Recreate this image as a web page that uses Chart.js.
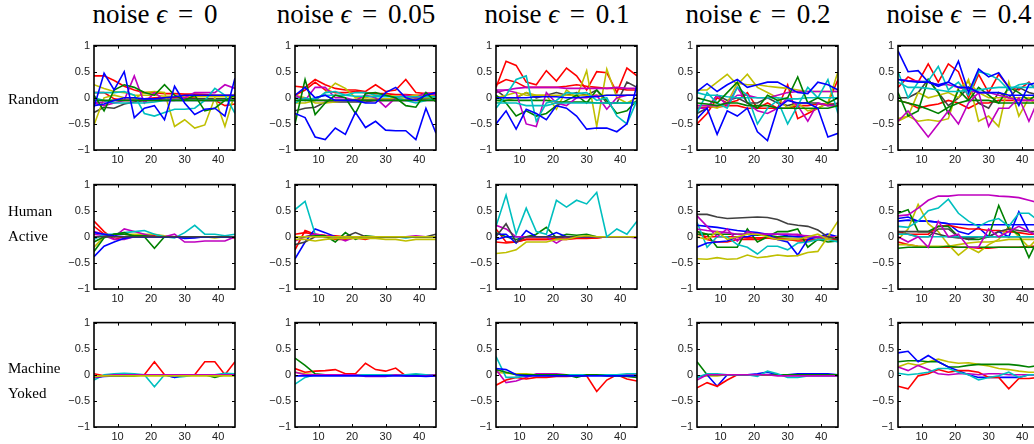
<!DOCTYPE html>
<html>
<head>
<script src="https://cdn.jsdelivr.net/npm/chart.js@4.4.0/dist/chart.umd.min.js"></script>
<style>
  body { margin: 0; background: #fff; width: 1034px; height: 444px; overflow: hidden; position: relative; }
  canvas { position: absolute; }
  .title { position: absolute; width: 240px; text-align: center; font: 27px 'Liberation Serif', serif; color: #000; white-space: nowrap; }
  .title i { font-style: italic; }
  .title .eq { margin: 0 4px; }
  .row { position: absolute; left: 8px; font: 15px 'Liberation Serif', serif; line-height: 25px; color: #000; }
</style>
</head>
<body>
<script>
// x positions of the samples and the axis ticks
const xSteps = [3, 6, 9, 12, 15, 18, 21, 24, 27, 30, 33, 36, 39, 42, 45];
const xTicks = [10, 20, 30, 40];
const yTicks = [-1, -0.5, 0, 0.5, 1];
const noiseLevels = ['0', '0.05', '0.1', '0.2', '0.4'];
const rowNames = [['Random'], ['Human', 'Active'], ['Machine', 'Yoked']];

// ---- Random ----
const randomE0 = {
  blue1: [-0.18, 0.47, 0.15, 0.5, -0.38, -0.2, -0.15, -0.42, 0.22, -0.1, -0.32, -0.22, -0.2, -0.35, 0.38],
  blue2: [-0.15, -0.12, -0.05, 0.0, 0.0, -0.02, -0.02, 0.0, 0.02, 0.05, 0.05, 0.05, 0.05, 0.05, 0.05],
  green1: [0.05, -0.25, 0.15, 0.25, 0.2, 0.1, 0.05, 0.25, 0.05, -0.05, 0.05, -0.25, -0.2, -0.05, 0.05],
  green2: [-0.05, -0.05, -0.05, -0.05, -0.05, -0.05, -0.05, -0.05, -0.05, -0.05, -0.05, -0.05, -0.05, -0.05, -0.05],
  cyan1: [0.1, 0.1, 0.1, 0.12, 0.05, -0.3, -0.35, -0.28, -0.22, -0.22, -0.2, -0.05, 0.18, 0.05, -0.3],
  cyan2: [0.0, -0.05, -0.1, -0.1, -0.1, -0.1, -0.08, -0.05, -0.05, -0.05, -0.05, -0.05, -0.05, -0.05, -0.05],
  magenta1: [-0.1, -0.15, -0.1, -0.05, 0.42, -0.1, 0.1, -0.05, -0.05, 0.0, 0.1, 0.1, 0.1, 0.25, 0.18],
  magenta2: [-0.1, -0.08, -0.05, -0.05, -0.05, -0.05, -0.05, -0.05, -0.05, -0.05, -0.05, -0.05, -0.05, -0.05, -0.05],
  yellow1: [-0.52, 0.0, 0.05, 0.0, -0.02, 0.1, 0.12, 0.1, -0.55, -0.42, -0.58, -0.52, 0.0, -0.55, 0.1],
  yellow2: [0.25, 0.18, 0.12, 0.1, 0.05, 0.05, 0.05, 0.03, 0.03, 0.03, 0.02, 0.02, 0.02, 0.02, 0.02],
  gray1: [-0.28, -0.18, -0.2, -0.12, -0.08, -0.05, -0.05, -0.03, -0.03, -0.02, -0.02, -0.02, -0.02, -0.02, -0.02],
  red1: [0.42, 0.42, 0.33, 0.22, 0.15, 0.1, 0.1, 0.08, 0.08, 0.07, 0.07, 0.06, 0.05, 0.05, 0.05],
  red2: [0.1, 0.1, -0.02, -0.05, -0.05, -0.02, 0.0, 0.0, 0.0, 0.02, 0.0, -0.05, -0.05, -0.15, -0.12]
};
const randomE005 = {
  blue1: [-0.3, -0.38, -0.75, -0.8, -0.58, -0.7, -0.28, -0.57, -0.45, -0.62, -0.63, -0.63, -0.8, -0.2, -0.68],
  blue2: [0.05, 0.2, 0.0, 0.05, -0.05, -0.05, -0.05, -0.1, -0.1, 0.1, 0.2, 0.0, -0.05, 0.05, 0.1],
  green1: [-0.5, 0.35, -0.32, -0.1, 0.05, 0.0, -0.3, 0.08, 0.1, 0.05, 0.0, -0.15, -0.18, 0.1, -0.08],
  green2: [-0.05, -0.05, -0.05, -0.05, -0.05, -0.05, -0.05, -0.05, -0.05, -0.05, -0.05, -0.05, -0.05, -0.05, -0.05],
  cyan1: [-0.1, 0.0, -0.05, 0.1, 0.12, 0.05, 0.1, 0.1, 0.05, 0.05, 0.0, -0.05, -0.1, -0.05, 0.0],
  cyan2: [0.0, -0.05, 0.0, 0.05, 0.05, 0.05, 0.03, 0.03, 0.02, 0.02, 0.02, 0.02, 0.02, 0.02, 0.02],
  magenta1: [0.05, -0.05, 0.2, 0.2, 0.0, 0.0, -0.05, 0.05, 0.0, -0.18, 0.0, 0.05, 0.0, 0.1, 0.05],
  magenta2: [0.0, -0.02, -0.05, -0.05, -0.05, -0.05, -0.05, -0.05, -0.05, -0.05, -0.05, -0.05, -0.05, -0.05, -0.05],
  yellow1: [-0.1, -0.1, -0.05, 0.1, 0.28, 0.18, 0.0, 0.0, 0.05, 0.05, 0.03, 0.03, 0.05, 0.05, 0.05],
  yellow2: [0.05, 0.0, -0.1, -0.1, -0.08, -0.05, -0.03, -0.03, -0.02, -0.02, -0.02, 0.0, 0.0, 0.0, 0.0],
  gray1: [-0.25, -0.2, -0.18, -0.08, -0.08, -0.08, -0.08, -0.08, -0.05, -0.05, -0.05, -0.05, -0.02, -0.02, -0.02],
  red1: [0.22, 0.2, 0.35, 0.25, 0.18, 0.15, 0.15, 0.12, 0.25, 0.12, 0.15, 0.35, 0.1, 0.08, 0.1],
  red2: [0.05, 0.15, 0.3, 0.15, 0.1, 0.1, 0.12, 0.1, 0.08, 0.08, 0.06, 0.06, 0.05, 0.05, 0.08]
};
const randomE01 = {
  blue1: [-0.5, -0.25, -0.6, -0.22, -0.3, -0.42, -0.15, -0.2, -0.35, -0.6, -0.58, -0.58, -0.65, -0.5, 0.25],
  blue2: [0.0, 0.0, 0.0, 0.0, 0.02, 0.02, 0.02, 0.0, 0.0, 0.02, 0.02, 0.05, 0.05, 0.05, 0.05],
  cyan1: [-0.2, 0.05, 0.35, 0.42, -0.45, -0.1, -0.05, 0.1, 0.08, 0.1, -0.05, 0.0, -0.35, -0.5, -0.05],
  cyan2: [-0.1, -0.1, -0.1, -0.15, -0.15, -0.15, -0.1, -0.1, -0.1, -0.1, -0.1, -0.1, -0.1, -0.1, -0.1],
  magenta1: [0.1, 0.15, 0.1, -0.5, -0.55, 0.1, -0.1, -0.15, 0.0, 0.0, 0.05, -0.22, 0.0, 0.05, 0.05],
  magenta2: [0.15, 0.15, 0.18, 0.2, 0.2, 0.2, 0.2, 0.18, 0.18, 0.18, 0.18, 0.18, 0.2, 0.18, 0.18],
  green1: [0.05, -0.1, -0.35, -0.25, -0.35, -0.3, -0.15, -0.05, 0.05, -0.1, 0.15, -0.05, -0.3, -0.25, -0.05],
  green2: [-0.05, -0.05, -0.05, -0.05, -0.05, -0.05, -0.08, -0.08, -0.08, -0.08, -0.1, -0.1, -0.1, -0.1, -0.08],
  yellow1: [-0.1, -0.05, 0.0, 0.1, 0.05, 0.05, -0.22, 0.15, 0.0, 0.52, -0.55, 0.55, 0.0, -0.1, 0.0],
  yellow2: [0.0, 0.05, 0.1, 0.05, 0.05, 0.05, 0.05, 0.05, 0.05, 0.05, 0.05, 0.05, 0.05, 0.05, 0.05],
  gray1: [0.15, 0.0, 0.0, 0.1, 0.0, 0.05, 0.1, 0.05, 0.1, 0.05, 0.15, -0.1, -0.1, 0.3, 0.2],
  red1: [0.2, 0.7, 0.62, 0.3, 0.25, 0.52, 0.32, 0.57, 0.42, 0.15, 0.5, 0.48, 0.1, 0.57, 0.42],
  red2: [0.25, 0.35, 0.3, 0.2, 0.2, 0.2, 0.2, 0.22, 0.25, 0.22, 0.2, 0.18, 0.18, 0.15, 0.15]
};
const randomE02 = {
  blue1: [0.12, 0.27, 0.12, 0.25, 0.35, 0.2, 0.25, 0.3, 0.3, 0.2, 0.1, 0.08, 0.3, 0.25, 0.15],
  blue2: [-0.4, -0.2, -0.7, -0.25, -0.35, -0.2, -0.65, -0.82, -0.2, -0.05, -0.1, -0.1, -0.2, -0.75, -0.68],
  green1: [0.0, -0.05, -0.1, 0.1, 0.3, -0.1, -0.2, 0.05, -0.05, 0.0, 0.4, -0.1, 0.0, -0.1, 0.0],
  green2: [-0.1, -0.12, -0.15, -0.1, -0.1, -0.15, -0.15, -0.15, -0.2, -0.2, -0.2, -0.2, -0.2, -0.2, -0.15],
  cyan1: [-0.3, 0.1, -0.1, -0.2, 0.2, 0.05, -0.5, -0.2, -0.05, -0.5, -0.15, 0.2, 0.0, 0.35, -0.3],
  cyan2: [0.1, 0.05, 0.05, 0.02, 0.0, 0.0, 0.0, 0.0, 0.0, -0.02, -0.02, 0.0, 0.0, 0.0, 0.0],
  magenta1: [-0.2, -0.2, 0.05, -0.15, 0.2, -0.1, -0.25, -0.3, -0.2, 0.0, -0.15, -0.45, -0.1, -0.15, -0.15],
  magenta2: [-0.15, -0.15, -0.15, -0.1, 0.05, 0.05, 0.0, 0.0, 0.05, 0.1, 0.12, 0.12, 0.12, 0.12, 0.12],
  yellow1: [0.15, 0.15, 0.3, 0.45, 0.25, 0.45, 0.2, 0.1, 0.0, -0.2, -0.1, -0.25, -0.2, -0.1, 0.5],
  yellow2: [-0.15, -0.15, -0.2, -0.1, 0.28, 0.25, 0.25, 0.22, 0.2, 0.18, 0.15, 0.12, 0.12, 0.12, 0.12],
  gray1: [-0.3, -0.2, 0.05, -0.05, 0.0, -0.1, -0.1, 0.0, -0.1, -0.15, -0.1, -0.1, -0.1, -0.15, -0.1],
  red1: [-0.5, -0.3, 0.0, -0.1, -0.05, 0.1, -0.2, -0.1, -0.2, 0.25, -0.4, -0.3, -0.2, -0.1, 0.35],
  red2: [-0.2, -0.18, -0.18, -0.15, -0.15, -0.2, -0.2, -0.2, -0.2, -0.2, -0.15, -0.15, -0.12, -0.12, -0.12]
};
const randomE04 = {
  blue1: [0.9, 0.5, 0.52, 0.3, 0.22, 0.3, 0.7, 0.1, 0.55, 0.4, 0.48, 0.2, -0.15, 0.25, 0.3],
  blue2: [0.35, 0.32, 0.3, 0.3, 0.25, 0.3, 0.2, 0.2, 0.1, 0.1, 0.1, 0.05, 0.05, 0.05, 0.05],
  cyan1: [0.5, 0.0, 0.3, 0.32, 0.6, 0.15, 0.3, 0.05, 0.5, 0.45, 0.35, 0.15, 0.25, 0.28, 0.15],
  cyan2: [0.3, 0.2, 0.2, 0.18, 0.15, 0.12, 0.12, 0.15, 0.15, 0.18, 0.2, 0.2, 0.2, 0.2, 0.2],
  magenta1: [-0.45, -0.25, -0.5, -0.75, -0.5, -0.25, -0.5, -0.1, 0.1, -0.55, -0.2, -0.2, 0.0, -0.45, 0.0],
  magenta2: [0.35, 0.33, 0.32, 0.3, 0.25, 0.25, 0.2, 0.15, 0.1, 0.1, 0.05, 0.0, -0.05, -0.05, -0.05],
  green1: [0.1, -0.35, -0.25, 0.35, 0.1, -0.3, 0.15, -0.05, 0.2, 0.05, -0.1, 0.2, 0.1, -0.05, 0.1],
  green2: [-0.05, -0.1, -0.15, -0.22, -0.3, -0.18, -0.1, -0.05, -0.05, -0.05, -0.1, -0.1, -0.1, -0.1, -0.1],
  yellow1: [-0.45, -0.35, 0.1, 0.0, 0.05, 0.1, 0.0, 0.35, -0.45, -0.35, -0.55, 0.3, -0.35, 0.0, -0.2],
  yellow2: [-0.4, -0.35, -0.45, -0.42, -0.45, -0.4, 0.2, 0.3, 0.1, 0.0, 0.0, 0.0, 0.0, 0.0, 0.0],
  gray1: [0.0, 0.0, 0.1, 0.35, 0.1, -0.15, 0.0, 0.2, -0.1, -0.2, 0.1, 0.0, 0.2, 0.1, 0.05],
  red1: [0.2, 0.4, 0.3, 0.65, 0.3, 0.65, 0.5, 0.0, 0.45, 0.1, 0.45, 0.2, 0.15, 0.3, 0.1],
  red2: [-0.05, -0.1, -0.2, -0.15, -0.12, -0.05, -0.1, -0.2, -0.1, -0.1, -0.05, -0.05, -0.05, -0.05, -0.05]
};

// ---- Human Active ----
const humanE0 = {
  gray1: [0.0, 0.0, 0.0, 0.0, 0.0, 0.0, 0.0, 0.0, 0.0, 0.0, 0.0, 0.0, 0.0, 0.0, 0.0],
  blue1: [-0.38, -0.18, -0.1, -0.03, 0.0, 0.0, 0.0, 0.0, 0.0, -0.03, -0.02, 0.0, 0.0, 0.0, 0.0],
  blue2: [0.08, 0.05, 0.02, 0.0, 0.0, 0.0, 0.0, 0.0, 0.0, 0.0, 0.0, 0.0, 0.0, 0.0, 0.0],
  green1: [-0.28, -0.02, 0.05, 0.08, 0.0, 0.0, -0.22, 0.0, 0.0, 0.0, 0.0, 0.0, 0.0, 0.0, 0.0],
  green2: [-0.1, 0.0, 0.05, 0.05, 0.02, 0.02, 0.0, 0.0, 0.0, 0.0, 0.0, 0.0, 0.0, 0.0, 0.0],
  cyan1: [-0.05, 0.05, 0.05, 0.08, 0.1, 0.12, 0.05, 0.0, -0.02, 0.08, 0.22, 0.05, 0.05, 0.02, 0.05],
  magenta1: [0.1, 0.05, 0.0, 0.15, 0.1, 0.05, 0.0, 0.0, 0.05, -0.1, -0.1, -0.08, -0.08, -0.08, 0.0],
  magenta2: [0.05, 0.02, -0.05, -0.05, 0.0, 0.0, 0.0, 0.0, 0.0, 0.0, 0.0, 0.0, 0.0, 0.0, 0.0],
  yellow1: [-0.2, 0.0, 0.05, 0.05, 0.05, 0.05, 0.05, 0.02, 0.0, 0.0, 0.0, 0.0, -0.02, 0.0, 0.0],
  red1: [0.3, 0.1, -0.05, 0.0, 0.02, 0.02, 0.02, 0.0, 0.0, 0.0, 0.0, 0.0, 0.0, 0.0, -0.02],
  red2: [0.2, 0.05, 0.0, 0.0, 0.0, 0.0, 0.0, 0.0, 0.0, 0.0, 0.0, 0.0, 0.0, 0.0, 0.0]
};
const humanE005 = {
  yellow1: [-0.05, -0.05, -0.08, -0.05, -0.03, -0.03, -0.03, -0.03, -0.03, -0.05, -0.05, -0.08, -0.05, -0.05, -0.05],
  yellow2: [0.0, 0.0, 0.0, 0.0, 0.0, 0.0, 0.0, 0.0, 0.0, 0.0, 0.0, 0.0, 0.0, 0.0, 0.0],
  gray1: [-0.15, -0.1, 0.0, 0.0, 0.0, 0.0, 0.08, 0.0, 0.0, 0.0, 0.0, 0.0, 0.0, 0.0, 0.05],
  green1: [0.0, 0.0, 0.02, 0.02, -0.1, 0.08, -0.05, 0.02, 0.0, 0.0, 0.0, 0.0, 0.0, 0.0, 0.0],
  magenta1: [-0.08, 0.0, 0.05, 0.02, 0.0, -0.08, 0.0, 0.0, 0.0, 0.0, 0.0, 0.0, 0.02, 0.0, 0.0],
  cyan1: [0.52, 0.68, 0.05, 0.0, 0.0, 0.0, 0.0, 0.0, 0.0, 0.0, 0.0, -0.02, 0.0, 0.0, 0.0],
  blue1: [-0.42, -0.1, 0.15, 0.08, 0.0, 0.0, 0.0, 0.0, 0.0, 0.0, 0.0, 0.0, 0.0, 0.0, 0.0],
  red1: [-0.25, 0.12, 0.05, 0.0, -0.05, -0.05, -0.02, -0.05, 0.0, 0.0, 0.0, 0.0, 0.0, 0.0, 0.0],
  red2: [0.05, 0.08, 0.05, 0.03, 0.02, 0.0, 0.0, 0.0, 0.0, 0.0, 0.0, 0.0, 0.0, 0.0, 0.0]
};
const humanE01 = {
  cyan1: [0.2, 0.8, 0.05, 0.55, 0.1, 0.05, 0.7, 0.57, 0.7, 0.63, 0.85, 0.0, 0.15, 0.05, 0.3],
  yellow1: [-0.32, -0.3, -0.25, -0.1, -0.1, -0.1, -0.05, -0.05, 0.0, 0.02, 0.0, 0.0, 0.0, 0.0, 0.0],
  gray1: [0.0, 0.25, -0.1, 0.0, 0.0, 0.0, 0.0, 0.0, 0.0, 0.0, 0.0, 0.0, 0.0, 0.0, 0.0],
  magenta1: [0.22, 0.15, 0.0, 0.0, 0.0, 0.0, -0.12, 0.0, 0.0, 0.0, 0.0, 0.0, 0.0, 0.0, -0.02],
  blue1: [0.05, 0.05, -0.12, 0.12, 0.0, 0.0, 0.08, 0.0, 0.0, 0.0, 0.0, 0.0, 0.0, 0.0, 0.0],
  blue2: [-0.05, 0.0, 0.0, 0.0, 0.0, 0.0, 0.0, 0.0, 0.0, 0.0, 0.0, 0.0, 0.0, 0.0, 0.0],
  green1: [0.08, 0.0, -0.05, 0.0, 0.05, 0.18, -0.02, 0.05, 0.03, 0.05, 0.0, 0.0, 0.0, 0.0, 0.0],
  red1: [0.15, -0.1, -0.1, -0.05, -0.05, -0.05, -0.05, -0.05, -0.03, -0.03, -0.02, 0.0, 0.0, 0.0, 0.0],
  red2: [-0.1, -0.12, -0.1, -0.05, -0.05, -0.05, -0.02, -0.02, -0.02, -0.02, -0.02, 0.0, 0.0, 0.0, 0.0]
};
const humanE02 = {
  gray1: [0.43, 0.43, 0.38, 0.35, 0.36, 0.37, 0.38, 0.37, 0.33, 0.25, 0.22, 0.2, 0.13, 0.0, -0.05],
  yellow1: [-0.42, -0.43, -0.4, -0.43, -0.42, -0.35, -0.4, -0.38, -0.35, -0.37, -0.36, -0.3, -0.28, 0.0, 0.3],
  yellow2: [0.0, -0.05, 0.1, -0.05, 0.0, 0.05, 0.05, 0.0, -0.05, -0.05, -0.05, 0.0, 0.05, -0.05, 0.0],
  magenta1: [0.4, 0.2, 0.0, 0.15, -0.08, 0.1, 0.05, 0.05, 0.05, 0.05, 0.05, 0.0, 0.0, 0.0, 0.0],
  magenta2: [0.15, 0.12, 0.1, 0.08, 0.05, 0.05, 0.05, 0.05, 0.05, 0.05, 0.03, 0.02, 0.0, 0.0, 0.0],
  blue1: [-0.2, -0.12, -0.1, -0.08, 0.0, 0.0, 0.05, 0.05, -0.05, -0.1, -0.35, -0.05, 0.0, 0.05, 0.0],
  blue2: [0.22, 0.2, 0.18, 0.15, 0.12, 0.1, 0.08, 0.05, 0.05, 0.02, 0.0, 0.0, 0.0, 0.0, 0.0],
  cyan1: [0.28, -0.2, 0.0, 0.0, -0.15, -0.2, -0.33, -0.18, -0.18, -0.25, -0.12, -0.1, -0.05, -0.05, -0.1],
  green1: [0.1, 0.05, -0.2, -0.2, -0.2, 0.15, -0.1, 0.0, 0.1, 0.1, 0.15, -0.2, -0.05, -0.1, -0.08],
  green2: [0.05, 0.05, 0.05, 0.05, 0.05, 0.05, 0.03, 0.03, 0.0, 0.0, 0.0, 0.0, 0.0, 0.0, 0.0],
  red1: [0.12, -0.05, -0.1, -0.1, -0.05, -0.05, -0.05, -0.02, -0.02, -0.05, -0.05, -0.05, -0.05, -0.05, -0.05],
  red2: [0.05, 0.0, 0.0, 0.0, 0.0, -0.02, -0.02, -0.02, -0.05, -0.05, -0.08, -0.08, -0.05, -0.03, -0.02]
};
const humanE04 = {
  magenta1: [0.4, 0.42, 0.55, 0.7, 0.78, 0.78, 0.8, 0.8, 0.8, 0.8, 0.78, 0.77, 0.75, 0.7, 0.65],
  magenta2: [0.0, -0.1, 0.0, -0.2, 0.3, 0.0, 0.05, -0.2, -0.2, 0.15, 0.0, 0.1, 0.2, 0.1, 0.0],
  cyan1: [0.2, 0.18, 0.3, 0.5, 0.55, 0.72, 0.45, 0.3, 0.2, 0.3, 0.35, 0.2, 0.45, 0.45, 0.3],
  cyan2: [0.05, 0.05, 0.0, 0.0, 0.0, 0.0, 0.0, 0.0, 0.0, 0.0, 0.0, 0.0, 0.0, 0.0, 0.0],
  gray1: [0.05, 0.05, 0.0, 0.0, 0.15, 0.15, 0.0, -0.05, 0.0, 0.0, 0.1, 0.15, 0.12, 0.1, 0.1],
  gray2: [0.1, 0.1, 0.1, 0.1, 0.05, 0.0, -0.02, -0.02, 0.0, 0.0, 0.0, 0.0, 0.0, 0.0, 0.0],
  green1: [0.45, 0.52, 0.1, 0.1, 0.2, 0.2, 0.0, -0.05, -0.05, 0.0, 0.6, 0.15, 0.05, -0.4, 0.0],
  green2: [-0.22, -0.2, -0.2, -0.2, -0.2, -0.18, -0.2, -0.2, -0.2, -0.2, -0.2, -0.2, -0.2, -0.2, -0.2],
  yellow1: [-0.05, 0.15, 0.62, 0.25, 0.1, -0.15, -0.35, -0.2, -0.3, -0.15, -0.05, 0.2, 0.0, -0.2, 0.0],
  yellow2: [-0.15, -0.15, -0.18, -0.18, -0.18, -0.18, -0.15, -0.12, -0.1, -0.1, -0.08, -0.05, -0.05, -0.05, -0.05],
  red1: [0.1, 0.05, 0.05, 0.05, 0.2, 0.22, 0.18, 0.15, 0.15, 0.12, 0.12, 0.1, 0.08, 0.05, 0.05],
  red2: [-0.1, -0.15, -0.18, -0.2, -0.2, -0.2, -0.2, -0.2, -0.22, -0.22, -0.2, -0.2, -0.2, -0.18, -0.18],
  blue1: [0.35, 0.38, 0.3, 0.3, 0.28, 0.25, 0.1, 0.05, 0.18, 0.0, 0.1, 0.0, 0.48, 0.1, 0.0],
  blue2: [0.3, 0.32, 0.3, 0.3, 0.28, 0.25, 0.24, 0.23, 0.23, 0.23, 0.23, 0.23, 0.23, 0.23, 0.23]
};

// ---- Machine Yoked ----
const machineE0 = {
  yellow1: [-0.03, -0.02, -0.02, -0.02, -0.02, -0.02, -0.02, -0.02, -0.02, -0.02, -0.02, -0.02, -0.02, -0.02, -0.02],
  magenta1: [-0.05, -0.02, 0.0, 0.0, 0.0, 0.0, 0.0, 0.0, 0.0, 0.0, 0.0, 0.0, 0.0, 0.0, 0.0],
  blue1: [-0.05, -0.03, -0.02, -0.02, 0.0, 0.0, 0.0, 0.0, -0.05, 0.0, 0.0, 0.0, 0.0, 0.0, 0.0],
  green1: [-0.05, -0.02, -0.02, -0.02, -0.02, 0.0, 0.0, 0.0, 0.0, 0.0, 0.0, 0.0, -0.05, 0.0, 0.0],
  cyan1: [-0.1, 0.0, 0.02, 0.03, 0.02, 0.0, -0.23, 0.0, -0.05, -0.03, 0.0, 0.0, 0.0, 0.03, 0.02],
  red1: [0.02, -0.02, 0.0, 0.0, 0.0, 0.0, 0.25, 0.0, 0.0, 0.0, 0.0, 0.25, 0.25, 0.0, 0.25]
};
const machineE005 = {
  blue1: [-0.02, -0.02, -0.02, -0.02, -0.02, -0.02, -0.02, -0.02, -0.02, -0.02, -0.02, -0.02, -0.02, -0.03, -0.02],
  magenta1: [0.05, 0.0, 0.0, 0.0, 0.0, 0.0, 0.0, -0.03, -0.03, -0.03, 0.0, -0.02, -0.02, -0.02, 0.0],
  cyan1: [-0.18, -0.05, 0.0, 0.0, 0.0, 0.0, 0.0, 0.0, 0.0, 0.0, 0.0, 0.0, 0.02, 0.0, 0.0],
  green1: [0.32, 0.18, 0.02, 0.0, 0.0, 0.0, 0.0, 0.0, 0.0, 0.0, 0.0, 0.0, 0.0, 0.0, 0.0],
  red1: [0.12, 0.05, 0.07, 0.08, 0.1, 0.02, 0.02, 0.22, 0.1, 0.07, 0.13, -0.02, -0.02, -0.02, -0.02],
  yellow1: [0.05, 0.02, 0.0, 0.0, 0.0, 0.0, 0.0, 0.0, 0.0, 0.0, 0.0, 0.0, 0.0, 0.0, 0.0]
};
const machineE01 = {
  blue1: [0.12, 0.1, 0.0, -0.02, -0.02, -0.02, -0.02, -0.02, -0.02, -0.02, -0.02, -0.02, -0.02, -0.02, -0.02],
  green1: [0.1, 0.05, 0.0, 0.0, 0.0, 0.0, 0.0, 0.0, -0.05, 0.0, 0.0, -0.02, -0.02, -0.03, -0.05],
  cyan1: [0.35, -0.05, -0.05, -0.02, 0.0, 0.0, 0.0, 0.0, 0.0, 0.0, 0.0, 0.0, 0.0, 0.02, 0.02],
  red1: [-0.2, -0.1, -0.05, -0.08, -0.05, -0.05, -0.03, -0.03, -0.02, -0.02, -0.32, -0.1, 0.0, -0.08, -0.12],
  magenta1: [0.1, -0.15, -0.12, -0.05, 0.02, 0.02, 0.02, 0.0, 0.0, 0.0, 0.0, 0.0, 0.0, 0.0, 0.0],
  yellow1: [0.05, 0.03, 0.02, 0.02, 0.0, 0.0, 0.0, 0.0, 0.0, 0.0, 0.0, 0.0, 0.0, 0.0, 0.0]
};
const machineE02 = {
  magenta1: [-0.1, 0.0, 0.0, 0.0, 0.0, 0.0, 0.0, 0.0, -0.02, -0.02, -0.02, -0.02, -0.02, -0.02, -0.02],
  cyan1: [-0.05, 0.02, 0.02, 0.0, 0.0, 0.0, -0.03, 0.07, 0.02, -0.05, -0.05, -0.02, -0.02, -0.02, -0.02],
  green1: [0.25, 0.0, 0.0, 0.0, 0.0, 0.0, 0.0, 0.0, 0.0, 0.0, 0.0, 0.0, 0.0, 0.0, 0.0],
  red1: [-0.25, -0.15, -0.22, -0.1, 0.0, 0.0, 0.0, 0.0, 0.0, 0.0, 0.0, 0.0, 0.0, 0.0, 0.0],
  blue1: [-0.05, 0.0, -0.22, 0.0, 0.0, 0.0, 0.02, 0.05, 0.0, 0.0, 0.02, 0.02, 0.02, 0.02, 0.0],
  yellow1: [-0.03, -0.02, -0.02, 0.0, 0.0, 0.0, 0.0, 0.0, 0.0, 0.0, 0.0, 0.0, 0.0, 0.0, 0.0]
};
const machineE04 = {
  cyan1: [0.03, 0.0, 0.02, 0.05, 0.12, 0.12, 0.05, 0.0, -0.1, -0.05, -0.02, 0.05, -0.05, 0.0, 0.0],
  magenta1: [0.15, 0.08, 0.18, 0.1, 0.02, 0.0, 0.02, 0.02, 0.0, 0.02, 0.02, 0.0, 0.0, 0.0, 0.0],
  red1: [-0.22, -0.27, -0.02, 0.02, 0.1, 0.05, 0.08, 0.08, 0.05, -0.05, -0.05, -0.27, -0.07, -0.07, -0.05],
  blue1: [0.42, 0.45, 0.25, 0.37, 0.25, 0.15, 0.08, 0.0, -0.05, -0.05, -0.05, -0.05, -0.05, 0.0, 0.0],
  green1: [0.25, 0.27, 0.27, 0.25, 0.25, 0.15, 0.15, 0.18, 0.2, 0.2, 0.2, 0.2, 0.18, 0.15, 0.18],
  yellow1: [0.15, 0.22, 0.18, 0.25, 0.3, 0.25, 0.22, 0.23, 0.2, 0.17, 0.12, 0.1, 0.07, 0.05, 0.05]
};

const grid = [
  [randomE0, randomE005, randomE01, randomE02, randomE04],
  [humanE0, humanE005, humanE01, humanE02, humanE04],
  [machineE0, machineE005, machineE01, machineE02, machineE04]
];

// matlab-ish line colours, keyed by series name prefix
const lineColors = {
  blue: '#0000ff', green: '#008000', red: '#ff0000', cyan: '#00bfbf',
  magenta: '#bf00bf', yellow: '#bfbf00', gray: '#404040'
};

const colLeft = [94, 295, 496, 697, 898];
const rowTop = [43, 182, 320];
const plotW = 141, plotH = 107;
const padL = 40, padT = 8, padR = 8, padB = 22;

// box + inward ticks on all four sides
const boxPlugin = {
  id: 'box',
  afterDraw(chart) {
    const { ctx, chartArea: a, scales: { x, y } } = chart;
    ctx.save();
    ctx.strokeStyle = '#000';
    ctx.lineWidth = 1;
    ctx.beginPath();
    x.ticks.forEach(t => {
      const px = Math.round(x.getPixelForValue(t.value)) + 0.5;
      ctx.moveTo(px, a.bottom); ctx.lineTo(px, a.bottom - 3);
      ctx.moveTo(px, a.top); ctx.lineTo(px, a.top + 3);
    });
    y.ticks.forEach(t => {
      const py = Math.round(y.getPixelForValue(t.value)) + 0.5;
      ctx.moveTo(a.left, py); ctx.lineTo(a.left + 3, py);
      ctx.moveTo(a.right, py); ctx.lineTo(a.right - 3, py);
    });
    ctx.stroke();
    ctx.lineWidth = 1.6;
    ctx.strokeRect(a.left, a.top, a.right - a.left, a.bottom - a.top);
    ctx.restore();
  }
};

const tickFont = { family: "'Liberation Sans', Arial, sans-serif", size: 11 };

grid.forEach((row, r) => {
  row.forEach((panel, c) => {
    const cv = document.createElement('canvas');
    cv.width = plotW + padL + padR;
    cv.height = plotH + padT + padB;
    cv.style.left = (colLeft[c] - padL) + 'px';
    cv.style.top = (rowTop[r] - padT) + 'px';
    document.body.appendChild(cv);

    const datasets = Object.keys(panel).map(name => ({
      label: name,
      data: panel[name].map((v, i) => ({ x: xSteps[i], y: v })),
      borderColor: lineColors[name.replace(/\d+$/, '')],
      borderWidth: 1.6,
      pointRadius: 0,
      tension: 0,
      fill: false
    }));

    new Chart(cv, {
      type: 'line',
      data: { datasets },
      options: {
        responsive: false,
        animation: false,
        devicePixelRatio: 1,
        layout: { padding: { top: padT, right: padR, left: 0, bottom: 0 } },
        plugins: { legend: { display: false }, tooltip: { enabled: false } },
        scales: {
          x: {
            type: 'linear', min: xSteps[0], max: xSteps[xSteps.length - 1],
            grid: { display: false, drawTicks: false }, border: { display: false },
            afterBuildTicks: s => { s.ticks = xTicks.map(v => ({ value: v })); },
            afterFit: s => { s.height = padB; },
            ticks: { font: tickFont, color: '#222', padding: 3, maxRotation: 0 }
          },
          y: {
            min: -1, max: 1,
            grid: { display: false, drawTicks: false }, border: { display: false },
            afterBuildTicks: s => { s.ticks = yTicks.map(v => ({ value: v })); },
            afterFit: s => { s.width = padL; },
            ticks: {
              font: tickFont, color: '#222', padding: 4,
              callback: v => (v < 0 ? '\u2212' + Math.abs(v) : String(v))
            }
          }
        }
      },
      plugins: [boxPlugin]
    });
  });
});

// column titles
noiseLevels.forEach((n, c) => {
  const d = document.createElement('div');
  d.className = 'title';
  d.style.left = (colLeft[c] + 61 - 120) + 'px';
  d.style.top = '-1px';
  d.innerHTML = 'noise <i>\u03f5</i> <span class="eq">=</span> ' + n;
  document.body.appendChild(d);
});

// row labels
const rowLabelTop = [87, 199, 356];
rowNames.forEach((lines, r) => {
  const d = document.createElement('div');
  d.className = 'row';
  d.style.top = rowLabelTop[r] + 'px';
  d.innerHTML = lines.join('<br>');
  document.body.appendChild(d);
});
</script>
</body>
</html>
